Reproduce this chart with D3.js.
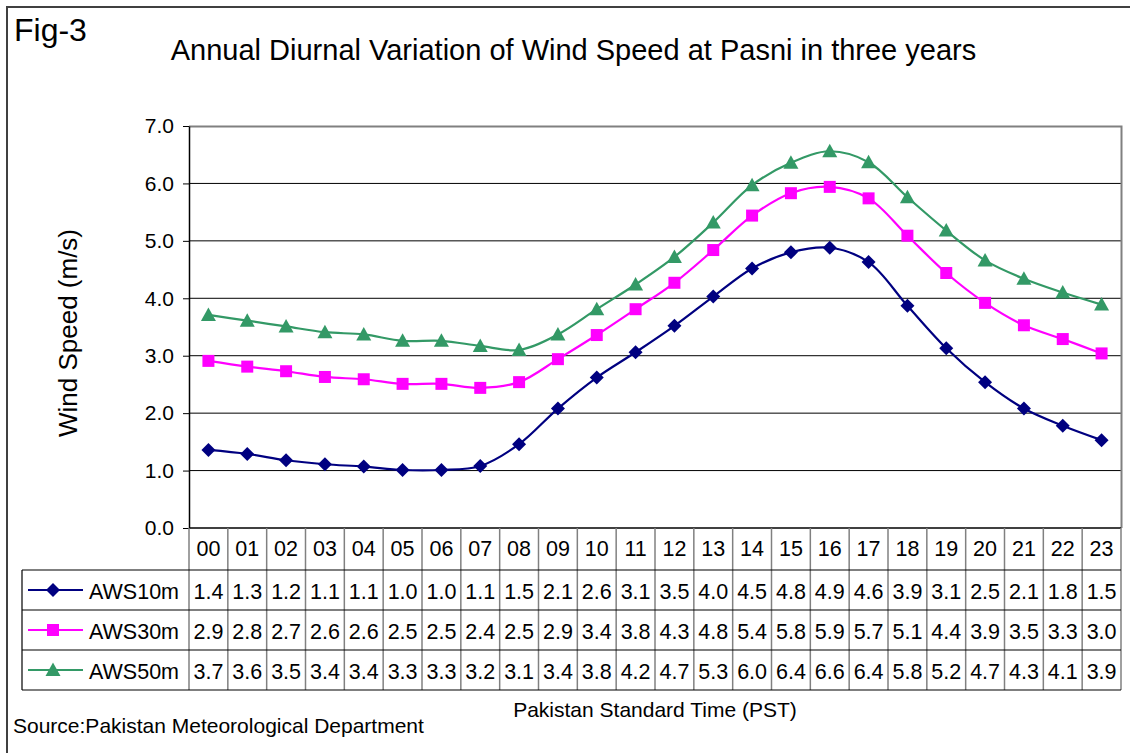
<!DOCTYPE html>
<html>
<head>
<meta charset="utf-8">
<script src="https://cdn.jsdelivr.net/npm/d3@7/dist/d3.min.js"></script>
<style>
  body { margin: 0; background: #fff; }
  svg { display: block; font-family: "Liberation Sans", Arial, sans-serif; }
</style>
</head>
<body>
<svg id="chart" width="1130" height="753"></svg>
<script>
// hours of the day (PST)
var hours = ["00","01","02","03","04","05","06","07","08","09","10","11",
             "12","13","14","15","16","17","18","19","20","21","22","23"];

// wind speed, m/s
var aws10 = [1.36,1.29,1.18,1.11,1.07,1.01,1.01,1.08,1.46,2.08,2.62,3.06,
             3.52,4.03,4.52,4.80,4.88,4.63,3.87,3.13,2.54,2.08,1.78,1.53];
var aws30 = [2.91,2.81,2.73,2.63,2.59,2.51,2.51,2.44,2.54,2.94,3.36,3.81,
             4.27,4.84,5.44,5.83,5.94,5.74,5.09,4.44,3.92,3.53,3.29,3.04];
var aws50 = [3.71,3.61,3.51,3.41,3.37,3.26,3.26,3.17,3.10,3.37,3.81,4.24,
             4.72,5.32,5.97,6.36,6.56,6.37,5.76,5.18,4.66,4.34,4.10,3.89];

var seriesNames = ["AWS10m", "AWS30m", "AWS50m"];
var yTicks = [0, 1, 2, 3, 4, 5, 6, 7];

(function() {
var series = [
  {name: seriesNames[0], values: aws10, color: "#000080", marker: "diamond"},
  {name: seriesNames[1], values: aws30, color: "#ff00ff", marker: "square"},
  {name: seriesNames[2], values: aws50, color: "#339966", marker: "triangle"}
];

var svg = d3.select("#chart");

// plot box
var pL = 189, pR = 1121, pT = 126, pB = 528;
var rowH = [42, 40, 40, 40];   // table header + 3 series rows
var legendLeft = 22;

var x = d3.scaleBand().domain(hours).range([pL, pR]).padding(0);
var y = d3.scaleLinear().domain([0, 7]).range([pB, pT]);
var cx = function(i) { return x(hours[i]) + x.bandwidth() / 2; };

// outer frame (only the left & top edges fall inside the picture)
svg.append("path")
  .attr("d", "M7,760 L7,7 L1140,7")
  .attr("fill", "none").attr("stroke", "#404040").attr("stroke-width", 2);

// gridlines
svg.append("g").selectAll("line")
  .data(yTicks.filter(function(d) { return d > 0 && d < 7; }))
  .join("line")
  .attr("x1", pL).attr("x2", pR)
  .attr("y1", function(d) { return y(d); }).attr("y2", function(d) { return y(d); })
  .attr("stroke", "#000").attr("stroke-width", 1);

// plot area border (grey) top/right
svg.append("path")
  .attr("d", "M" + pL + "," + (y(7) + 0.5) + " H" + (pR + 0.5) + " V" + pB)
  .attr("fill", "none").attr("stroke", "#808080").attr("stroke-width", 2);

// y axis
var yAxis = d3.axisLeft(y).tickValues(yTicks).tickFormat(d3.format(".1f"))
  .tickSizeInner(6).tickSizeOuter(0).tickPadding(9);
var gy = svg.append("g").attr("transform", "translate(" + pL + ",0)").call(yAxis);
gy.select(".domain").attr("stroke", "#000").attr("stroke-width", 1.5);
gy.selectAll(".tick line").attr("stroke", "#000");
gy.selectAll(".tick text").attr("font-size", 21).attr("fill", "#000")
  .attr("font-family", "Liberation Sans, Arial, sans-serif");

// x axis line
svg.append("line")
  .attr("x1", pL).attr("x2", pR)
  .attr("y1", pB).attr("y2", pB)
  .attr("stroke", "#000").attr("stroke-width", 1.5);

// ---- data table ----
var rowY = [pB];
rowH.forEach(function(h, i) { rowY.push(rowY[i] + h); });
var tableBottom = rowY[rowY.length - 1];

var table = svg.append("g");

// vertical column separators
table.selectAll("line.col")
  .data(hours.concat(["end"]))
  .join("line")
  .attr("class", "col")
  .attr("x1", function(d, i) { return i < hours.length ? x(d) : pR; })
  .attr("x2", function(d, i) { return i < hours.length ? x(d) : pR; })
  .attr("y1", pB).attr("y2", tableBottom)
  .attr("stroke", "#808080").attr("stroke-width", 1.5);

// horizontal row lines
table.selectAll("line.row")
  .data(rowY.slice(1))
  .join("line")
  .attr("class", "row")
  .attr("x1", legendLeft).attr("x2", pR)
  .attr("y1", function(d) { return d; }).attr("y2", function(d) { return d; })
  .attr("stroke", "#000").attr("stroke-width", 1.2);

// legend column left edge
table.append("line")
  .attr("x1", legendLeft).attr("x2", legendLeft)
  .attr("y1", rowY[1]).attr("y2", tableBottom)
  .attr("stroke", "#000").attr("stroke-width", 1.2);

// header labels
table.selectAll("text.hour")
  .data(hours)
  .join("text")
  .attr("class", "hour")
  .attr("x", function(d, i) { return cx(i); })
  .attr("y", rowY[0] + 28)
  .attr("text-anchor", "middle")
  .attr("font-size", 21.5)
  .text(function(d) { return d; });

var fmt = d3.format(".1f");

function markerPath(kind) {
  if (kind === "diamond") return "M0,-7 L7,0 L0,7 L-7,0 Z";
  if (kind === "square") return "M-6,-6 H6 V6 H-6 Z";
  return "M0,-7.5 L7.5,6 L-7.5,6 Z";
}

series.forEach(function(s, si) {
  var ry = rowY[si + 1];
  var my = ry + rowH[si + 1] / 2;
  // values
  table.selectAll("text.v" + si)
    .data(s.values)
    .join("text")
    .attr("class", "v" + si)
    .attr("x", function(d, i) { return cx(i); })
    .attr("y", ry + 29)
    .attr("text-anchor", "middle")
    .attr("font-size", 21.5)
    .text(function(d) { return fmt(d); });
  // legend key
  table.append("line")
    .attr("x1", 28).attr("x2", 83)
    .attr("y1", my).attr("y2", my)
    .attr("stroke", s.color).attr("stroke-width", 2);
  table.append("path")
    .attr("d", markerPath(s.marker))
    .attr("transform", "translate(53," + my + ")")
    .attr("fill", s.color);
  table.append("text")
    .attr("x", 89).attr("y", ry + 29)
    .attr("font-size", 21.5)
    .text(s.name);
});

// ---- lines ----
var line = d3.line()
  .x(function(d, i) { return cx(i); })
  .y(function(d) { return y(d); })
  .curve(d3.curveCatmullRom.alpha(0.5));

series.forEach(function(s) {
  svg.append("path")
    .datum(s.values)
    .attr("d", line)
    .attr("fill", "none")
    .attr("stroke", s.color)
    .attr("stroke-width", 2.2);
  svg.append("g").selectAll("path")
    .data(s.values)
    .join("path")
    .attr("d", markerPath(s.marker))
    .attr("transform", function(d, i) {
      return "translate(" + cx(i) + "," + y(d) + ")";
    })
    .attr("fill", s.color);
});

// ---- titles ----
svg.append("text")
  .attr("x", 14).attr("y", 41)
  .attr("font-size", 32)
  .text("Fig-3");

svg.append("text")
  .attr("x", 573.5).attr("y", 60)
  .attr("text-anchor", "middle")
  .attr("font-size", 29)
  .text("Annual Diurnal Variation of Wind Speed at Pasni in three years");

svg.append("text")
  .attr("transform", "translate(77,333) rotate(-90)")
  .attr("text-anchor", "middle")
  .attr("font-size", 26)
  .text("Wind Speed (m/s)");

svg.append("text")
  .attr("x", (pL + pR) / 2).attr("y", 717)
  .attr("text-anchor", "middle")
  .attr("font-size", 21)
  .text("Pakistan Standard Time (PST)");

svg.append("text")
  .attr("x", 13).attr("y", 733)
  .attr("font-size", 21)
  .text("Source:Pakistan Meteorological Department");
})();
</script>
</body>
</html>
